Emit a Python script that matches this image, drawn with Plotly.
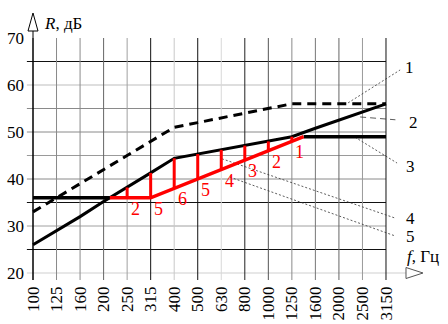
import numpy as np
import plotly.graph_objects as go

# Third-octave band centre frequencies, Hz
bands = ["100", "125", "160", "200", "250", "315", "400", "500",
         "630", "800", "1000", "1250", "1600", "2000", "2500", "3150"]
# Normative airborne sound insulation curve, dB
norm_db = [33, 36, 39, 42, 45, 48, 51, 52, 53, 54, 55, 56, 56, 56, 56, 56]
# Sound insulation of the partition, dB
actual_db = [26, 29, 32, 35.2, 38.2, 41.3, 44.4, 45.3,
             46.2, 47.1, 48.0, 49.0, 50.8, 52.5, 54.3, 56.0]
# Estimated characteristic: plateau, 6 dB/octave slope, plateau (band position, dB)
est_band = [0, 5, 11.5, 15]
est_db = [36, 36, 49, 49]

y_ticks = [20, 30, 40, 50, 60, 70]
grid_db = [20, 25, 30, 35, 40, 45, 50, 55, 60, 65]

# Callouts: label, leader start (band, dB), leader end (band, dB), label position
callouts = [
    ("1", (13.39, 56.2), (15.60, 63.2), (16.02, 63.8), "dot"),
    ("2", (13.90, 53.2), (15.40, 52.6), (16.15, 52.1), "dash"),
    ("3", (13.68, 48.9), (15.47, 43.4), (16.06, 42.6), "dot"),
    ("4", (8.03, 44.3), (15.38, 31.7), (16.06, 31.5), "dot"),
    ("5", (8.37, 40.4), (15.38, 27.9), (16.06, 27.8), "dot"),
]

# Grid line shades
h_grid_colors = ["#cfcfcf", "#111111", "#a0a0a0", "#111111", "#8a8a8a",
                 "#9a9a9a", "#8a8a8a", "#8a8a8a", "#bdbdbd", "#111111"]
v_grid_colors = ["#000000", "#8a8a8a", "#8a8a8a", "#666666", "#a0a0a0",
                 "#111111", "#c8c8c8", "#111111", "#d8d8d8", "#222222",
                 "#555555", "#8a8a8a", "#777777", "#666666", "#999999", "#111111"]

FONT = "Liberation Serif"
idx = np.arange(len(bands), dtype=float)
actual = np.array(actual_db, dtype=float)
est_at_band = np.interp(idx, est_band, est_db)

# where the partition curve meets the low-frequency plateau
x_cross = float(np.interp(est_db[0], actual, idx))

fig = go.Figure()

shapes = []
# horizontal grid
for db, col in zip(grid_db, h_grid_colors):
    x_end = 15.85 if db == y_ticks[0] else 15
    shapes.append(dict(type="line", xref="x", yref="y", x0=-0.26, x1=x_end,
                       y0=db, y1=db, line=dict(color=col, width=1), layer="below"))
# vertical grid
for i, col in zip(idx, v_grid_colors):
    shapes.append(dict(type="line", xref="x", yref="y", x0=i, x1=i,
                       y0=18.51, y1=70, line=dict(color=col, width=1), layer="below"))
# vertical axis line up to the arrow
shapes.append(dict(type="line", xref="x", yref="y", x0=0, x1=0, y0=18.51, y1=71.5,
                   line=dict(color="black", width=1), layer="below"))
# axis arrows (open triangles)
shapes.append(dict(type="path", xref="x", yref="y", xsizemode="pixel", ysizemode="pixel",
                   xanchor=0, yanchor=70, path="M -5,7 L 0,25 L 5,7 Z",
                   line=dict(color="black", width=1), fillcolor="white"))
shapes.append(dict(type="path", xref="x", yref="y", xsizemode="pixel", ysizemode="pixel",
                   xanchor=15, yanchor=20, path="M 20,-5.5 L 37,0 L 20,5.5 Z",
                   line=dict(color="#555555", width=1), fillcolor="white"))

# leader lines
for lab, p0, p1, pl, dash in callouts:
    fig.add_trace(go.Scatter(x=[p0[0], p1[0]], y=[p0[1], p1[1]], mode="lines",
                             line=dict(color="#333333", width=0.8,
                                       dash="2px,2px" if dash == "dot" else "6px,4px"),
                             hoverinfo="skip", showlegend=False))

# normative curve
fig.add_trace(go.Scatter(x=idx, y=norm_db, mode="lines",
                         line=dict(color="black", width=3, dash="9px,6px"),
                         showlegend=False))
# partition curve
fig.add_trace(go.Scatter(x=idx, y=actual, mode="lines",
                         line=dict(color="black", width=3), showlegend=False))
# plateaus of the estimated characteristic outside the deviation zone
fig.add_trace(go.Scatter(x=[est_band[0], x_cross, None, est_band[2], est_band[3]],
                         y=[est_db[0], est_db[0], None, est_db[2], est_db[3]],
                         mode="lines", line=dict(color="black", width=3.5),
                         showlegend=False))

# deviations between the partition curve and the estimated characteristic
dev = actual - est_at_band
sel = (idx >= x_cross) & (idx <= est_band[2]) & (dev > 0)
vx, vy = [], []
for i in idx[sel].astype(int):
    vx += [idx[i], idx[i], None]
    vy += [est_at_band[i], actual[i], None]
fig.add_trace(go.Scatter(x=vx, y=vy, mode="lines",
                         line=dict(color="red", width=3), showlegend=False))
# estimated characteristic in the deviation zone
fig.add_trace(go.Scatter(x=[x_cross, est_band[1], est_band[2]],
                         y=[est_db[0], est_db[1], est_db[2]], mode="lines",
                         line=dict(color="red", width=3.5), showlegend=False))

annotations = []
for i in idx[sel].astype(int):
    annotations.append(dict(x=idx[i], y=est_at_band[i], xref="x", yref="y",
                            text=str(int(round(dev[i]))), showarrow=False,
                            xshift=8, yshift=-11,
                            font=dict(family=FONT, size=18, color="red")))
for lab, p0, p1, pl, dash in callouts:
    annotations.append(dict(x=pl[0], y=pl[1], xref="x", yref="y", text=lab,
                            showarrow=False, font=dict(family=FONT, size=17, color="black")))
annotations.append(dict(x=0.38, y=73.0, xref="x", yref="y", text="<i>R</i>, дБ",
                        xanchor="left", showarrow=False,
                        font=dict(family=FONT, size=17, color="black")))
annotations.append(dict(x=15.81, y=23.6, xref="x", yref="y", text="<i>f</i>, Гц",
                        xanchor="left", showarrow=False,
                        font=dict(family=FONT, size=17, color="black")))

fig.update_layout(
    width=448, height=324,
    margin=dict(l=26, r=0, t=0, b=43),
    paper_bgcolor="white", plot_bgcolor="white",
    shapes=shapes, annotations=annotations,
    font=dict(family=FONT, size=17, color="black"),
    xaxis=dict(range=[-0.2975, 17.635], tickvals=idx, ticktext=bands,
               tickangle=-90, showgrid=False, zeroline=False, showline=False,
               ticks="", ticklabelstandoff=1, fixedrange=True,
               tickfont=dict(family=FONT, size=17, color="black")),
    yaxis=dict(range=[18.298, 78.085], tickvals=y_ticks, showgrid=False,
               zeroline=False, showline=False, ticks="", ticklabelstandoff=1,
               fixedrange=True,
               tickfont=dict(family=FONT, size=17, color="black")),
)

fig.write_html("out.html")
